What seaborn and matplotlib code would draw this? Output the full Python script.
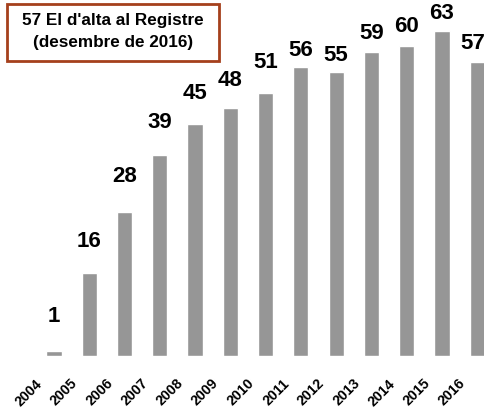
import matplotlib
matplotlib.use("Agg")
import matplotlib.pyplot as plt
import matplotlib.transforms as mtransforms
from matplotlib.patches import Rectangle
import seaborn as sns
import pandas as pd

years = ["2004", "2005", "2006", "2007", "2008", "2009", "2010",
         "2011", "2012", "2013", "2014", "2015", "2016"]
values = [1, 16, 28, 39, 45, 48, 51, 56, 55, 59, 60, 63, 57]
title_lines = ["57 El d'alta al Registre", "(desembre de 2016)"]

# offsets (pixels) of each value label from its bar top
label_dy = [35, 33, 36, 33, 31, 29, 31, 18, 18, 19, 21, 18, 19]
label_dx = [0, 0, 0, 0, 0, 0, 0, 0, 0, 0, 0, 0, -4]

sns.set_theme(style="white")
plt.rcParams["font.family"] = ["Liberation Sans", "DejaVu Sans"]

W, H = 485, 414
fig = plt.figure(figsize=(W / 100, H / 100), dpi=100)
ax = fig.add_axes([0, 57 / H, 1, 1 - 57 / H])

df = pd.DataFrame({"year": years, "value": values})
sns.barplot(data=df, x="year", y="value", color="#969696", saturation=1,
            width=0.43, ax=ax)

ax.set_xlim(-1.53, 12.22)
ax.set_ylim(0, 69.2)
for s in ax.spines.values():
    s.set_visible(False)
ax.set_yticks([])
ax.set_xlabel("")
ax.set_ylabel("")
ax.set_xticks(range(len(years)))
ax.set_xticklabels(years, rotation=45, ha="right", rotation_mode="default",
                   fontsize=10.2, fontweight="bold", color="black")
ax.tick_params(axis="x", length=0, pad=14)
offset = mtransforms.ScaledTranslation(-9 / 100, 0, fig.dpi_scale_trans)
for lab in ax.get_xticklabels():
    lab.set_transform(lab.get_transform() + offset)

for i, (v, dx, dy) in enumerate(zip(values, label_dx, label_dy)):
    ax.annotate(str(v), xy=(i, v), xytext=(dx, dy), textcoords="offset pixels",
                ha="center", va="center", fontsize=16, fontweight="bold",
                color="black", annotation_clip=False)

# title box
fig.patches.append(Rectangle((7 / W, 1 - 62 / H), 212 / W, 57 / H,
                             transform=fig.transFigure, fill=True,
                             facecolor="white", edgecolor="#A5401C",
                             linewidth=2.0, zorder=5))
fig.text(113 / W, 1 - 20 / H, title_lines[0], ha="center", va="center",
         fontsize=12.3, fontweight="bold", color="black", zorder=6)
fig.text(113 / W, 1 - 42 / H, title_lines[1], ha="center", va="center",
         fontsize=12.3, fontweight="bold", color="black", zorder=6)

fig.savefig("out.png", dpi=100)
